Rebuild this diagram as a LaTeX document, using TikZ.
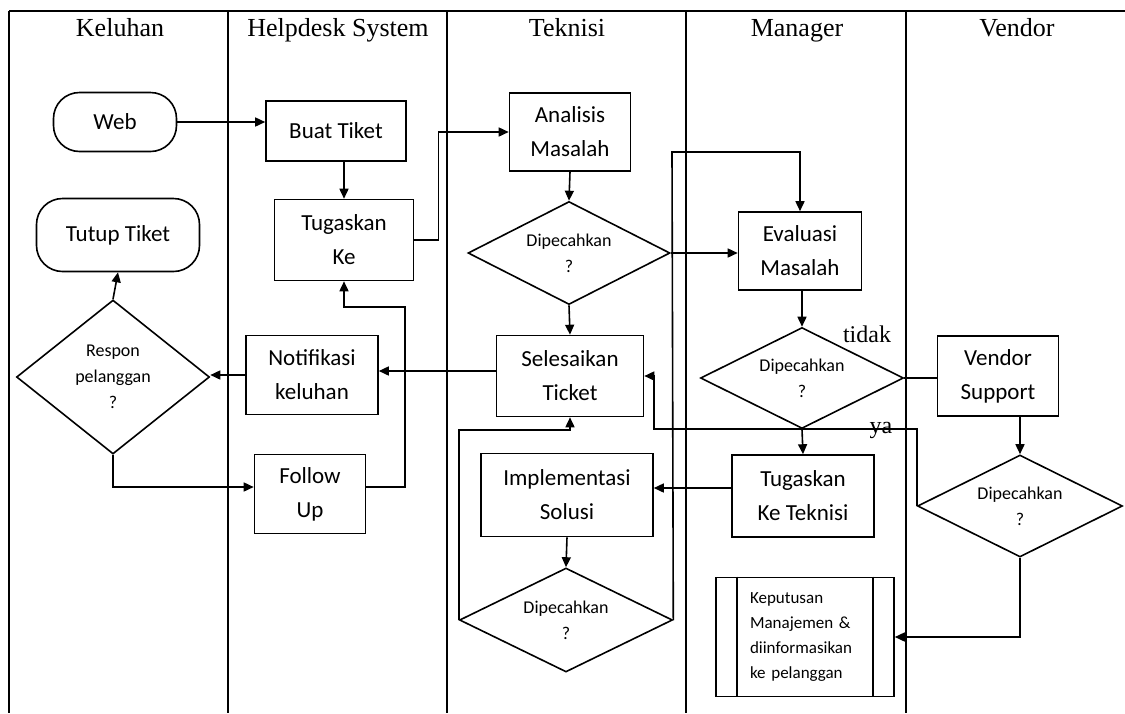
\documentclass[tikz,border=0pt]{standalone}
\usepackage{fontspec}
\setmainfont{Liberation Serif}
\newfontfamily\boxfont{Carlito}
\usetikzlibrary{shapes.geometric, arrows.meta, positioning}
\tikzset{
    >={Triangle[length=10pt, width=9pt]}, % solid arrow heads
    proc/.style={draw, line width=1.6pt, align=center, inner sep=2pt, font=\boxfont\fontsize{23}{34}\selectfont}, % process box
    term/.style={proc, rounded corners=26pt}, % start and end boxes
    decision/.style={draw, diamond, line width=1.6pt, align=center, inner sep=1pt, shape aspect=2, font=\boxfont\fontsize{18}{26}\selectfont}, % question
    lane/.style={line width=1.6pt}, % swimlane borders and plain lines
    flow/.style={->, line width=1.6pt}, % connectors
    lanetitle/.style={anchor=base, font=\fontsize{26}{30}\selectfont}, % lane headers
    answer/.style={font=\fontsize{24}{28}\selectfont}, % tidak / ya
}

\begin{document}
\begin{tikzpicture}[x=1pt, y=-1pt]
    \useasboundingbox (0,0) rectangle (1125,713);
    \draw[line width=2.2pt] (9,11) -- (1125,11);
    \foreach \x in {9,228,447,686,906}
        \draw[lane] (\x,11) -- (\x,713);

    \node[lanetitle] (hKeluhan) at (120,36) {Keluhan};
    \node[lanetitle] (hHelpdesk) at (338,36) {Helpdesk System};
    \node[lanetitle] (hTeknisi) at (567,36) {Teknisi};
    \node[lanetitle] (hManager) at (797,36) {Manager};
    \node[lanetitle] (hVendor) at (1017,36) {Vendor};

    \node[term, minimum width=123pt, minimum height=59pt] (web) at (115,122) {Web};
    \node[term, minimum width=163pt, minimum height=73pt] (tutup) at (118,235) {Tutup Tiket};
    \node[decision, shape aspect=1.25, minimum width=193pt, minimum height=154pt] (respon) at (113,377) {Respon\\pelanggan\\?};

    \node[proc, minimum width=140pt, minimum height=60pt] (buat) at (336,131) {Buat Tiket};
    \node[proc, minimum width=139pt, minimum height=81pt] (tugas) at (344,240) {Tugaskan\\Ke};
    \node[proc, minimum width=132pt, minimum height=79pt] (notif) at (312,375) {Notifikasi\\keluhan};
    \node[proc, minimum width=111pt, minimum height=79pt] (follow) at (310,494) {Follow\\Up};

    \node[proc, minimum width=121pt, minimum height=78pt] (analisis) at (570,132) {Analisis\\Masalah};
    \node[decision, minimum width=202pt, minimum height=103pt] (cekTek) at (569,253) {Dipecahkan\\?};
    \node[proc, minimum width=147pt, minimum height=81pt] (selesai) at (570,376) {Selesaikan\\Ticket};
    \node[proc, minimum width=172pt, minimum height=83pt] (impl) at (567,495) {Implementasi\\Solusi};
    \node[decision, minimum width=213pt, minimum height=104pt] (cekImpl) at (566,620) {Dipecahkan\\?};

    \node[proc, minimum width=123pt, minimum height=78pt] (evaluasi) at (800,251) {Evaluasi\\Masalah};
    \node[decision, minimum width=203pt, minimum height=101pt] (cekMgr) at (802,378) {Dipecahkan\\?};
    \node[proc, minimum width=142pt, minimum height=82pt] (tugasTek) at (803,496) {Tugaskan\\Ke Teknisi};
    \node[proc, minimum width=178pt, minimum height=119pt, text width=110pt, align=left,
          font=\boxfont\fontsize{17}{25}\selectfont] (keputusan) at (805,637)
          {Keputusan\\Manajemen \&\\diinformasikan\\ke pelanggan};
    \draw[lane] ([xshift=22pt]keputusan.north west) -- ([xshift=22pt]keputusan.south west);
    \draw[lane] ([xshift=-22pt]keputusan.north east) -- ([xshift=-22pt]keputusan.south east);

    \node[proc, minimum width=121pt, minimum height=80pt] (vendorSup) at (998,376) {Vendor\\Support};
    \node[decision, minimum width=205pt, minimum height=102pt] (cekVen) at (1020,506) {Dipecahkan\\?};

    \node[answer] (tidak) at (867,334) {tidak};
    \node[answer] (ya) at (881,430) {ya};

    \coordinate (loopTop) at (672,152);
    \coordinate (yaTurn) at (654,429);
    \coordinate (backUp) at (405,307);

    \draw[flow] (web.east) -- (web.east -| buat.west);
    \draw[flow] (tugas.north |- buat.south) -- (tugas.north);
    \draw[flow] (tugas.east) -- ++(24,0) |- (analisis.west);
    \draw[flow] (analisis.south) -- (cekTek.north);
    \draw[flow] (cekTek.south) -- (selesai.north);
    \draw[flow] (cekTek.east) -- (cekTek.east -| evaluasi.west);
    \draw[flow] (cekImpl.east) -- (loopTop) -| (evaluasi.north);
    \draw[flow] (cekImpl.west) -- ++(0,-190) -| (selesai.south);
    \draw[flow] (impl.south) -- (cekImpl.north);
    \draw[flow] ([yshift=8pt]tugasTek.west) -- ([yshift=8pt]tugasTek.west -| impl.east);
    \draw[flow] (cekMgr.north |- evaluasi.south) -- (cekMgr.north);
    \draw[flow] (cekMgr.south) -- (tugasTek.north);
    \draw[lane] (cekMgr.east) -- (cekMgr.east -| vendorSup.west);
    \draw[flow] (cekVen.north |- vendorSup.south) -- (cekVen.north);
    \draw[flow] (cekVen.south) |- (keputusan.east);
    \draw[flow] (cekVen.west) |- (yaTurn) |- (selesai.east);
    \draw[flow] ([yshift=5pt]selesai.west) -- ([yshift=5pt]selesai.west -| notif.east);
    \draw[flow] (notif.west) -- (notif.west -| respon.east);
    \draw[flow] (respon.north) -- (tutup.south);
    \draw[flow] (respon.south) |- ([yshift=7pt]follow.west);
    \draw[flow] ([yshift=7pt]follow.east) -| (backUp) -| (tugas.south);
\end{tikzpicture}
\end{document}
